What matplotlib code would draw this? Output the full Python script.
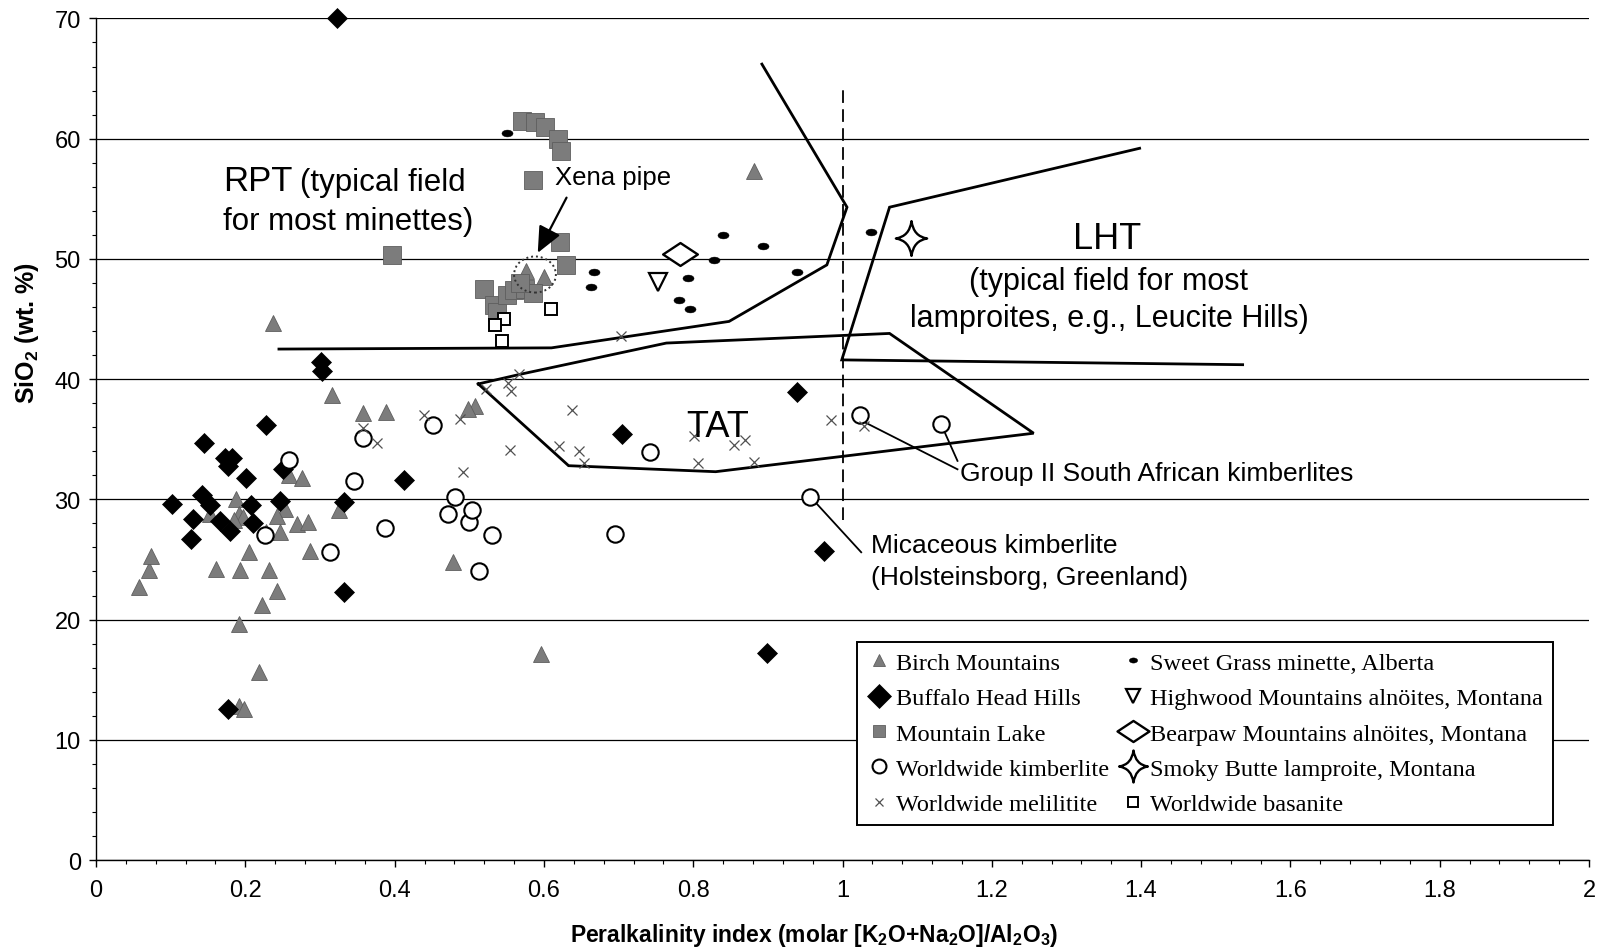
import numpy as np
import matplotlib
matplotlib.use("Agg")
import matplotlib.pyplot as plt
from matplotlib.path import Path
from matplotlib.lines import Line2D
from matplotlib.patches import Ellipse, FancyArrowPatch
from matplotlib.ticker import MultipleLocator, FuncFormatter

plt.rcParams['font.family'] = ['Liberation Sans', 'DejaVu Sans']
plt.rcParams['mathtext.fontset'] = 'custom'
plt.rcParams['mathtext.rm'] = 'Liberation Sans'
plt.rcParams['mathtext.bf'] = 'Liberation Sans:bold'

# ---------------- data: peralkalinity index (x) vs SiO2 wt.% (y) ----------------
birch_x = [0.057, 0.071, 0.074, 0.161, 0.193, 0.232, 0.205, 0.242, 0.222, 0.192,
           0.218, 0.192, 0.198, 0.286, 0.258, 0.276, 0.187, 0.191, 0.197, 0.185,
           0.153, 0.253, 0.243, 0.269, 0.284, 0.246, 0.227, 0.2375, 0.316, 0.357,
           0.388, 0.508, 0.498, 0.478, 0.596, 0.881, 0.325, 0.576, 0.600]
birch_y = [22.7, 24.1, 25.3, 24.2, 24.15, 24.1, 25.6, 22.4, 21.2, 19.6,
           15.6, 12.8, 12.6, 25.7, 32.0, 31.75, 30.0, 28.8, 28.5, 28.3,
           28.8, 29.2, 28.6, 27.95, 28.1, 27.3, 27.3, 44.7, 38.7, 37.2,
           37.3, 37.8, 37.5, 24.8, 17.1, 57.3, 29.1, 49.0, 48.5]

buffalo_x = [0.323, 0.102, 0.127, 0.130, 0.142, 0.145, 0.153, 0.166, 0.173, 0.182,
             0.177, 0.179, 0.201, 0.207, 0.210, 0.2277, 0.251, 0.246, 0.302, 0.303,
             0.332, 0.413, 0.332, 0.177, 0.704, 0.939, 0.975, 0.899]
buffalo_y = [70.0, 29.6, 26.7, 28.4, 30.4, 34.7, 29.5, 28.2, 33.4, 33.4,
             32.8, 27.4, 31.8, 29.5, 28.0, 36.2, 32.5, 29.9, 41.4, 40.7,
             29.8, 31.6, 22.3, 12.6, 35.4, 38.9, 25.7, 17.2]

mtlake_x = [0.396, 0.570, 0.588, 0.601, 0.619, 0.623, 0.586, 0.622, 0.629,
            0.520, 0.533, 0.537, 0.550, 0.560, 0.575, 0.585, 0.568]
mtlake_y = [50.3, 61.5, 61.4, 61.0, 60.0, 59.0, 56.6, 51.4, 49.5,
            47.5, 46.2, 45.6, 47.0, 47.4, 47.5, 47.2, 48.0]

kimb_x = [0.226, 0.259, 0.313, 0.346, 0.357, 0.387, 0.451, 0.471, 0.481, 0.500,
          0.504, 0.513, 0.530, 0.695, 0.742, 0.957, 1.023, 1.132]
kimb_y = [27.0, 33.3, 25.6, 31.5, 35.1, 27.6, 36.2, 28.8, 30.2, 28.1,
          29.1, 24.0, 27.0, 27.1, 33.9, 30.2, 37.0, 36.3]

melil_x = [0.357, 0.376, 0.439, 0.488, 0.492, 0.522, 0.552, 0.556, 0.567, 0.554,
           0.620, 0.638, 0.647, 0.653, 0.703, 0.801, 0.806, 0.854, 0.869, 0.881,
           0.984, 1.029]
melil_y = [35.9, 34.7, 37.0, 36.7, 32.3, 39.2, 39.7, 39.0, 40.4, 34.1,
           34.4, 37.4, 34.0, 33.0, 43.6, 35.3, 33.0, 34.5, 34.9, 33.1,
           36.6, 36.1]

sweet_x = [0.550, 0.667, 0.663, 0.840, 0.893, 0.828, 0.793, 0.781, 0.795, 0.939, 1.038]
sweet_y = [60.5, 48.9, 47.7, 52.0, 51.1, 49.9, 48.4, 46.6, 45.8, 48.9, 52.2]

highwood_x = [0.753]
highwood_y = [48.1]
bearpaw_x = [0.782]
bearpaw_y = [50.4]
smoky_x = [1.092]
smoky_y = [51.7]

basan_x = [0.610, 0.547, 0.534, 0.544]
basan_y = [45.8, 45.0, 44.5, 43.2]

# field boundaries
rpt_x = [0.245, 0.610, 0.848, 0.979, 1.006, 0.892]
rpt_y = [42.5, 42.6, 44.8, 49.5, 54.3, 66.2]
lht_x = [1.536, 0.999, 1.063, 1.398]
lht_y = [41.2, 41.6, 54.3, 59.2]
tat_x = [0.512, 0.568, 0.764, 1.063, 1.256, 0.830, 0.633, 0.512]
tat_y = [39.6, 40.4, 43.0, 43.8, 35.5, 32.3, 32.8, 39.6]

xticks = [0, 0.2, 0.4, 0.6, 0.8, 1.0, 1.2, 1.4, 1.6, 1.8, 2.0]
yticks = [0, 10, 20, 30, 40, 50, 60, 70]

# ---------------- custom marker shapes ----------------
t = np.linspace(0, 2 * np.pi, 41)
ellipse_marker = Path(np.column_stack([np.cos(t), 0.62 * np.sin(t)]))
wide_diamond = Path([(-1, 0), (0, 0.66), (1, 0), (0, -0.66), (-1, 0)],
                    [Path.MOVETO, Path.LINETO, Path.LINETO, Path.LINETO, Path.CLOSEPOLY])
c = 0.12
star_marker = Path([(0, 1), (c, c), (0.9, 0), (c, -c), (0, -1), (-c, -c), (-0.9, 0),
                    (-c, c), (0, 1), (0, 1)],
                   [Path.MOVETO, Path.CURVE3, Path.CURVE3, Path.CURVE3, Path.CURVE3,
                    Path.CURVE3, Path.CURVE3, Path.CURVE3, Path.CURVE3, Path.CLOSEPOLY])

GRAY = '#7c7c7c'
GRAY_EDGE = '#5e5e5e'

styles = {
    'birch': dict(marker='^', ms=12, mfc=GRAY, mec=GRAY_EDGE, mew=0.6),
    'buffalo': dict(marker='D', ms=10.2, mfc='black', mec='black', mew=0.5),
    'mtlake': dict(marker='s', ms=12.5, mfc=GRAY, mec=GRAY_EDGE, mew=0.6),
    'kimb': dict(marker='o', ms=11.8, mfc='white', mec='black', mew=1.5),
    'melil': dict(marker='x', ms=7, mfc='none', mec='#505050', mew=0.9),
    'sweet': dict(marker=ellipse_marker, ms=8, mfc='black', mec='black', mew=0.3),
    'highwood': dict(marker='v', ms=12.5, mfc='white', mec='black', mew=1.6),
    'bearpaw': dict(marker=wide_diamond, ms=25, mfc='white', mec='black', mew=1.7),
    'smoky': dict(marker=star_marker, ms=25, mfc='white', mec='black', mew=1.7),
    'basan': dict(marker='s', ms=8, mfc='white', mec='black', mew=1.4),
}

fig = plt.figure(figsize=(16.01, 9.53), dpi=100)
ax = fig.add_axes([0.0600, 0.0965, 0.9325, 0.8831])
ax.set_xlim(0, 2)
ax.set_ylim(0, 70)

# axes, ticks and gridlines
ax.set_xticks(xticks)
ax.set_yticks(yticks)
ax.xaxis.set_minor_locator(MultipleLocator(0.04))
ax.yaxis.set_minor_locator(MultipleLocator(2))
ax.xaxis.set_major_formatter(FuncFormatter(lambda v, p: f'{v:g}'))
for s in ['top', 'right']:
    ax.spines[s].set_visible(False)
for s in ['left', 'bottom']:
    ax.spines[s].set_linewidth(1.0)
ax.yaxis.grid(True, which='major', color='black', lw=0.9)
ax.set_axisbelow(True)
ax.tick_params(axis='both', which='major', direction='out', length=5, width=1,
               labelsize=17)
ax.tick_params(axis='x', which='major', pad=9)
ax.tick_params(axis='y', which='major', pad=6)
ax.tick_params(axis='both', which='minor', direction='out', length=3, width=0.8)

ax.set_xlabel(r'Peralkalinity index (molar [K$_\mathbf{2}$O+Na$_\mathbf{2}$O]/Al$_\mathbf{2}$O$_\mathbf{3}$)',
              fontsize=16.5, fontweight='bold')
ax.xaxis.set_label_coords(0.481, -0.073)
ax.set_ylabel(r'SiO$_\mathbf{2}$ (wt. %)', fontsize=18, fontweight='bold')
ax.yaxis.set_label_coords(-0.037, 0.627)

# field boundaries
ax.plot(rpt_x, rpt_y, color='black', lw=2.0, zorder=2.5, solid_joinstyle='miter')
ax.plot(lht_x, lht_y, color='black', lw=2.0, zorder=2.5, solid_joinstyle='miter')
ax.plot(tat_x, tat_y, color='black', lw=2.0, zorder=2.5, solid_joinstyle='miter')
ax.plot([1.0, 1.0], [28.3, 64.3], color='black', lw=1.3, ls=(0, (7, 3.5)), zorder=2.5)

# sample groups
series = [
    ('birch', birch_x, birch_y), ('buffalo', buffalo_x, buffalo_y),
    ('mtlake', mtlake_x, mtlake_y), ('kimb', kimb_x, kimb_y),
    ('melil', melil_x, melil_y), ('sweet', sweet_x, sweet_y),
    ('highwood', highwood_x, highwood_y), ('bearpaw', bearpaw_x, bearpaw_y),
    ('smoky', smoky_x, smoky_y), ('basan', basan_x, basan_y),
]
for key, xs, ys in series:
    ax.plot(xs, ys, ls='none', zorder=3, clip_on=False, **styles[key])

# Xena pipe highlight
ax.add_patch(Ellipse((0.588, 48.7), 0.056, 3.0, fill=False, ec='#333333',
                     lw=1.4, ls=(0, (1, 1.5)), zorder=4))
ax.add_patch(FancyArrowPatch((0.632, 55.3), (0.590, 50.3),
                             arrowstyle='-|>,head_length=10,head_width=4.5',
                             mutation_scale=1.6, color='black', lw=1.6, zorder=5))
ax.text(0.615, 56.2, 'Xena pipe', fontsize=18.5, va='baseline')

# field labels
ax.text(0.170, 55.7, 'RPT', fontsize=25, va='baseline')
ax.text(0.273, 55.7, '(typical field', fontsize=22.5, va='baseline')
ax.text(0.170, 52.5, 'for most minettes)', fontsize=22.5, va='baseline')
ax.text(1.354, 50.9, 'LHT', fontsize=26, va='baseline', ha='center')
ax.text(1.356, 47.5, '(typical field for most', fontsize=22, va='baseline', ha='center')
ax.text(1.358, 44.4, 'lamproites, e.g., Leucite Hills)', fontsize=22, va='baseline',
        ha='center')
ax.text(0.833, 35.3, 'TAT', fontsize=26, va='baseline', ha='center')

# callouts
ax.plot([1.027, 1.154], [36.5, 32.5], color='black', lw=1.3, zorder=2.6)
ax.plot([1.136, 1.154], [35.7, 33.2], color='black', lw=1.3, zorder=2.6)
ax.text(1.157, 31.6, 'Group II South African kimberlites', fontsize=19, va='baseline')
ax.plot([0.963, 1.025], [29.8, 25.6], color='black', lw=1.3, zorder=2.6)
ax.text(1.038, 25.6, 'Micaceous kimberlite', fontsize=19, va='baseline')
ax.text(1.038, 23.0, '(Holsteinsborg, Greenland)', fontsize=19, va='baseline')

# legend
labels = {
    'birch': 'Birch Mountains', 'buffalo': 'Buffalo Head Hills',
    'mtlake': 'Mountain Lake', 'kimb': 'Worldwide kimberlite',
    'melil': 'Worldwide melilitite', 'sweet': 'Sweet Grass minette, Alberta',
    'highwood': 'Highwood Mountains aln\u00f6ites, Montana',
    'bearpaw': 'Bearpaw Mountains aln\u00f6ites, Montana',
    'smoky': 'Smoky Butte lamproite, Montana', 'basan': 'Worldwide basanite',
}
legend_sizes = {'birch': 9, 'buffalo': 12, 'mtlake': 9, 'kimb': 10, 'melil': 6,
                'sweet': 6, 'highwood': 10.5, 'bearpaw': 23, 'smoky': 23, 'basan': 7}
order = ['birch', 'buffalo', 'mtlake', 'kimb', 'melil',
         'sweet', 'highwood', 'bearpaw', 'smoky', 'basan']
handles = []
for key in order:
    st = dict(styles[key])
    st['ms'] = legend_sizes[key]
    handles.append(Line2D([], [], ls='none', **st))
leg = ax.legend(handles, [labels[k] for k in order], ncol=2, loc='upper left',
                bbox_to_anchor=(0.5015, 0.2735), frameon=True, fancybox=False,
                edgecolor='black', framealpha=1, borderpad=0.4,
                labelspacing=0.55, handlelength=1.0, handletextpad=0.2,
                columnspacing=0.5, prop={'family': 'Liberation Serif', 'size': 17.5})
leg.get_frame().set_linewidth(1.4)
leg.set_zorder(6)

fig.savefig('out.png', dpi=100)
